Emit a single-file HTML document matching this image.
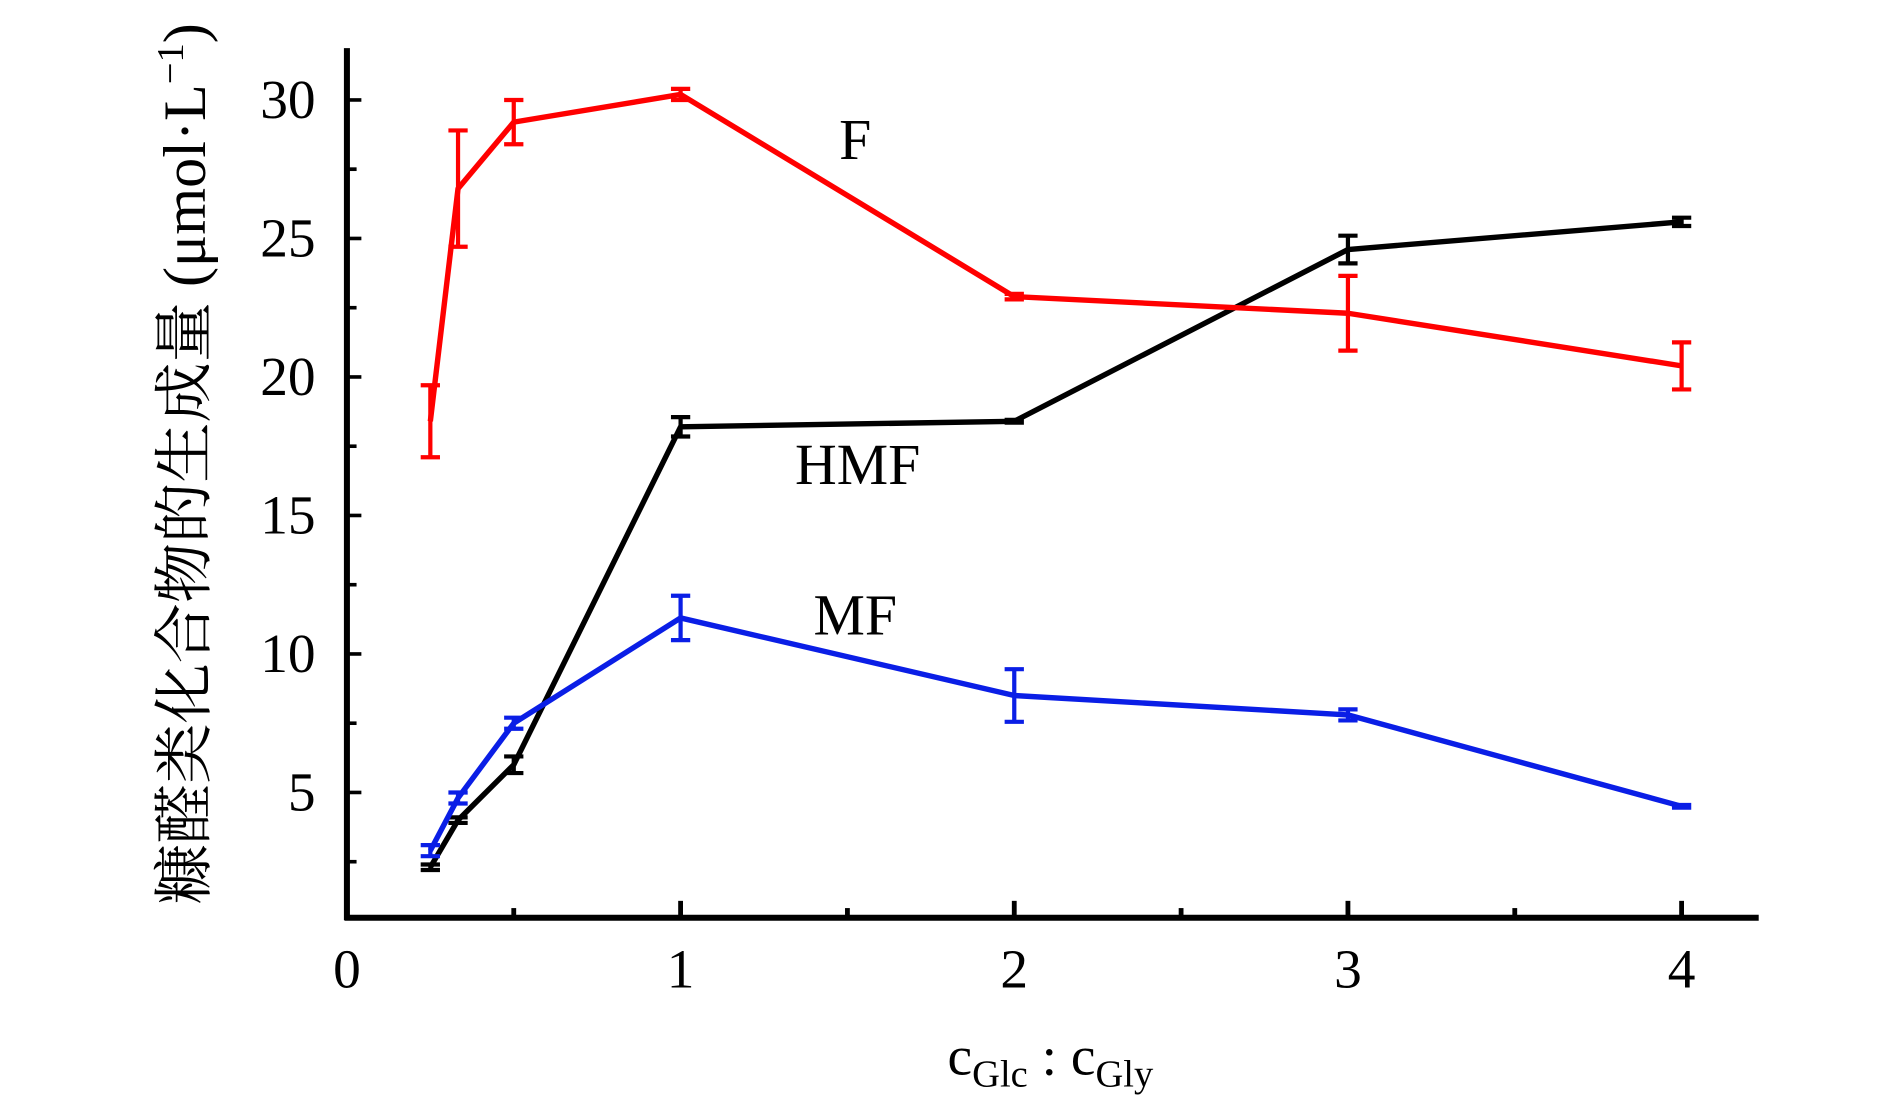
<!DOCTYPE html>
<html><head><meta charset="utf-8"><style>
html,body{margin:0;padding:0;background:#fff;width:1890px;height:1108px;overflow:hidden}
svg{display:block}
text{font-family:"Liberation Serif","Noto Serif CJK SC",serif;fill:#000}
</style></head><body>
<svg id="chart" width="1890" height="1108" viewBox="0 0 1569 920" preserveAspectRatio="none" xmlns="http://www.w3.org/2000/svg">
<g id="axes"></g>
<g id="series"></g>
<text transform="translate(170,385) rotate(-90)" text-anchor="middle" font-size="50" style="font-family:'Liberation Serif','Noto Serif CJK SC',serif">糠醛类化合物的生成量 (μmol·L<tspan font-size="32" dy="-18">−1</tspan><tspan dy="18">)</tspan></text>
<text x="872" y="892" text-anchor="middle" font-size="46">c<tspan font-size="32" dy="10">Glc</tspan><tspan dy="-10"> : c</tspan><tspan font-size="32" dy="10">Gly</tspan></text>
<text x="710" y="132" text-anchor="middle" font-size="48">F</text>
<text x="712" y="402" text-anchor="middle" font-size="48">HMF</text>
<text x="710" y="527" text-anchor="middle" font-size="48">MF</text>
</svg>
<script>
const xValues=[0.25,0.333,0.5,1,2,3,4];
const fVals=[18.4,26.8,29.2,30.2,22.9,22.3,20.4];
const fErr=[1.3,2.1,0.8,0.2,0.1,1.35,0.85];
const hmfVals=[2.3,4.0,6.0,18.2,18.4,24.6,25.6];
const hmfErr=[0.1,0.1,0.3,0.35,0.05,0.5,0.15];
const mfVals=[2.9,4.8,7.5,11.3,8.5,7.8,4.5];
const mfErr=[0.2,0.2,0.2,0.8,0.95,0.2,0.05];
const xTicks=[0,1,2,3,4];
const yTicks=[5,10,15,20,25,30];
const xs=v=>288+v*277;
const ys=v=>773-v*23;
const NS='http://www.w3.org/2000/svg';
function mk(tag,attrs,parent){const e=document.createElementNS(NS,tag);for(const k in attrs)e.setAttribute(k,attrs[k]);parent.appendChild(e);return e;}
const ax=document.getElementById('axes');
let e=mk('line',{x1:288,y1:40,x2:288,y2:764,stroke:'#000','stroke-width':5},ax);

e=mk('line',{x1:286,y1:762,x2:1460,y2:762,stroke:'#000','stroke-width':5},ax);

yTicks.forEach(v=>{
 let t=mk('line',{x1:288,x2:300,y1:ys(v),y2:ys(v),stroke:'#000','stroke-width':3},ax);
 
 let m=mk('line',{x1:288,x2:296,y1:ys(v-2.5),y2:ys(v-2.5),stroke:'#000','stroke-width':3},ax);
 
 let l=mk('text',{x:262,y:ys(v)+15,'text-anchor':'end','font-size':46},ax);l.textContent=v;
 
});
let m2=mk('line',{x1:288,x2:296,y1:ys(27.5),y2:ys(27.5),stroke:'#000','stroke-width':3},ax);

xTicks.forEach(v=>{
 if(v>0){let t=mk('line',{x1:xs(v),x2:xs(v),y1:762,y2:748,stroke:'#000','stroke-width':4},ax);
 }
 if(v<4){let m=mk('line',{x1:xs(v+0.5),x2:xs(v+0.5),y1:762,y2:754,stroke:'#000','stroke-width':4},ax);
 }
 let l=mk('text',{x:xs(v),y:820,'text-anchor':'middle','font-size':46},ax);l.textContent=v;
 
});
const sg=document.getElementById('series');
function series(vals,errs,color,name){
 const g=mk('g',{},sg);
 
 const p=mk('polyline',{points:xValues.map((x,i)=>xs(x)+','+ys(vals[i])).join(' '),fill:'none',stroke:color,'stroke-width':4.5,'stroke-linejoin':'round'},g);
 
 xValues.forEach((x,i)=>{
  const X=xs(x),t=ys(vals[i]+errs[i]),b=ys(vals[i]-errs[i]);
  const eb=mk('path',{d:`M${X},${t}V${b}M${X-8},${t}H${X+8}M${X-8},${b}H${X+8}`,stroke:color,'stroke-width':3.5,fill:'none'},g);
  
 });
}
series(hmfVals,hmfErr,'#000','hmf');
series(fVals,fErr,'#ff0000','f');
series(mfVals,mfErr,'#0a1ee6','mf');
</script>
</body></html>
